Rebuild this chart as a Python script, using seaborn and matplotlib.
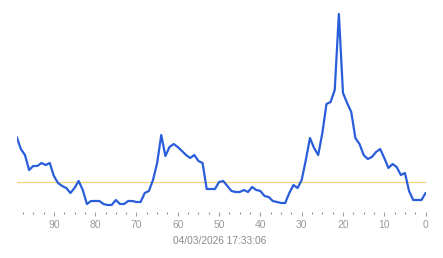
import matplotlib
matplotlib.use("Agg")
import matplotlib.pyplot as plt
import seaborn as sns
import pandas as pd
import numpy as np
from matplotlib.ticker import MultipleLocator

# Series: position (units back in time) and value
positions = [99, 98, 97, 96, 95, 94, 93, 92, 91, 90,
             89, 88, 87, 86, 85, 84, 83, 82, 81, 80,
             79, 78, 77, 76, 75, 74, 73, 72, 71, 70,
             69, 68, 67, 66, 65, 64, 63, 62, 61, 60,
             59, 58, 57, 56, 55, 54, 53, 52, 51, 50,
             49, 48, 47, 46, 45, 44, 43, 42, 41, 40,
             39, 38, 37, 36, 35, 34, 33, 32, 31, 30,
             29, 28, 27, 26, 25, 24, 23, 22, 21, 20,
             19, 18, 17, 16, 15, 14, 13, 12, 11, 10,
             9, 8, 7, 6, 5, 4, 3, 2, 1, 0]
values = [75, 63, 57, 42, 46, 46, 49, 47, 49, 36,
          29, 26, 24, 19, 24, 31, 22, 8, 11, 11,
          11, 8, 7, 7, 12, 8, 8, 11, 11, 10,
          10, 19, 21, 32, 49, 77, 56, 65, 68, 65,
          61, 57, 54, 57, 51, 49, 23, 23, 23, 30,
          31, 26, 21, 20, 20, 22, 20, 25, 22, 21,
          16, 15, 11, 10, 9, 9, 19, 27, 24, 32,
          52, 74, 64, 57, 79, 108, 110, 122, 198, 119,
          109, 100, 74, 68, 57, 53, 55, 60, 63, 54,
          44, 48, 45, 37, 39, 21, 12, 12, 12, 19]
reference_level = 30
major_ticks = [90, 80, 70, 60, 50, 40, 30, 20, 10, 0]
timestamp = "04/03/2026 17:33:06"

sns.set_style("white")
plt.rcParams['font.family'] = ['Liberation Sans', 'DejaVu Sans']

fig = plt.figure(figsize=(4.43, 2.58), dpi=100)
ax = fig.add_axes([16.7 / 443, (258 - 212) / 258, (425.6 - 16.7) / 443, 204 / 258])

df = pd.DataFrame({"pos": positions, "val": values})
ax.axhline(reference_level, color="#f0d47a", lw=0.9, zorder=1)
sns.lineplot(data=df, x="pos", y="val", ax=ax, color="#2a5dda", lw=1.6,
             zorder=3, sort=False)

ax.set_xlim(99, 0)
ax.set_ylim(0, 204)
for s in ax.spines.values():
    s.set_visible(False)
ax.set_yticks([])
ax.set_xticks(major_ticks)
ax.set_xticklabels([str(t) for t in major_ticks])
ax.xaxis.set_minor_locator(MultipleLocator(2.5))
ax.tick_params(axis="x", which="major", direction="out", length=3, width=0.8,
               color="#a0a0a0", labelsize=7.5, labelcolor="#9a9a9a", pad=2.5, bottom=True)
ax.tick_params(axis="x", which="minor", direction="out", length=1.5, width=0.8,
               color="#8a8a8a", bottom=True)
ax.set_xlabel("")
ax.set_ylabel("")

fig.text(220 / 443, 1 - 240.7 / 258, timestamp, ha="center", va="center",
         fontsize=7.3, color="#8a8a8a")

fig.savefig("out.png", dpi=100)
